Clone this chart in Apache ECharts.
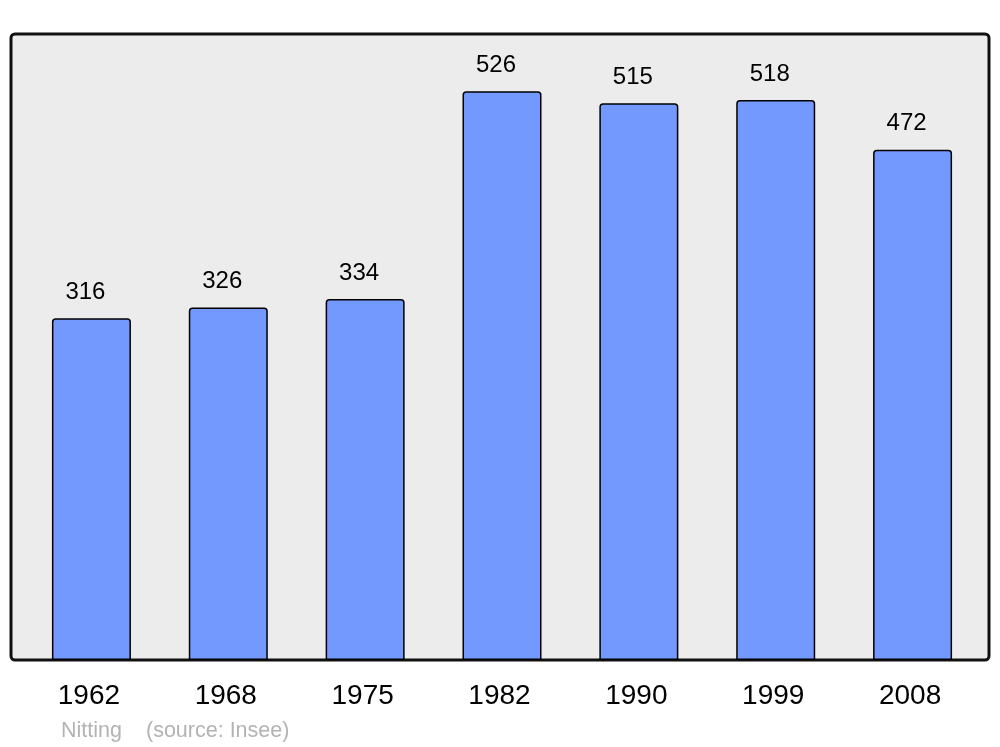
<!DOCTYPE html>
<html>
<head>
<meta charset="utf-8">
<script src="https://cdn.jsdelivr.net/npm/echarts@6/dist/echarts.min.js"></script>
<style>html,body{margin:0;padding:0;background:#fff}#c{width:1000px;height:747px}</style>
</head>
<body>
<div id="c"></div>
<script>
const years = ['1962', '1968', '1975', '1982', '1990', '1999', '2008'];
const population = [316, 326, 334, 526, 515, 518, 472];
const placeName = 'Nitting';
const sourceText = '(source: Insee)';

const chart = echarts.init(document.getElementById('c'), null, {renderer: 'canvas'});
chart.setOption({
  animation: false,
  backgroundColor: '#ffffff',
  grid: {left: 23, right: 19, top: 34, bottom: 87},
  graphic: [
    {type: 'rect', z: -10, shape: {x: 11, y: 34, width: 978, height: 626, r: 4},
     style: {fill: '#ececec', stroke: '#111111', lineWidth: 3}},
    {type: 'text', left: 61, top: 720, style: {text: placeName, fill: '#b3b3b3', font: '21.5px "Liberation Sans", Arial, sans-serif'}},
    {type: 'text', left: 146, top: 720, style: {text: sourceText, fill: '#b3b3b3', font: '21.5px "Liberation Sans", Arial, sans-serif'}}
  ],
  xAxis: {
    type: 'category', data: years,
    axisLine: {show: false}, axisTick: {show: false},
    axisLabel: {color: '#000', fontSize: 28, fontFamily: '"Liberation Sans", Arial, sans-serif', margin: 22,
                padding: [0, 5, 0, 0]}
  },
  yAxis: {type: 'value', min: 0, max: 579, show: false, splitLine: {show: false}},
  series: [{
    type: 'bar', data: population, barWidth: 79,
    itemStyle: {color: '#7399ff', borderColor: '#000', borderWidth: 1.5, borderRadius: [3, 3, 0, 0]},
    label: {show: true, position: 'top', distance: 14, offset: [-6, 0], color: '#000', fontSize: 24,
            fontFamily: '"Liberation Sans", Arial, sans-serif'}
  }]
});
</script>
</body>
</html>
